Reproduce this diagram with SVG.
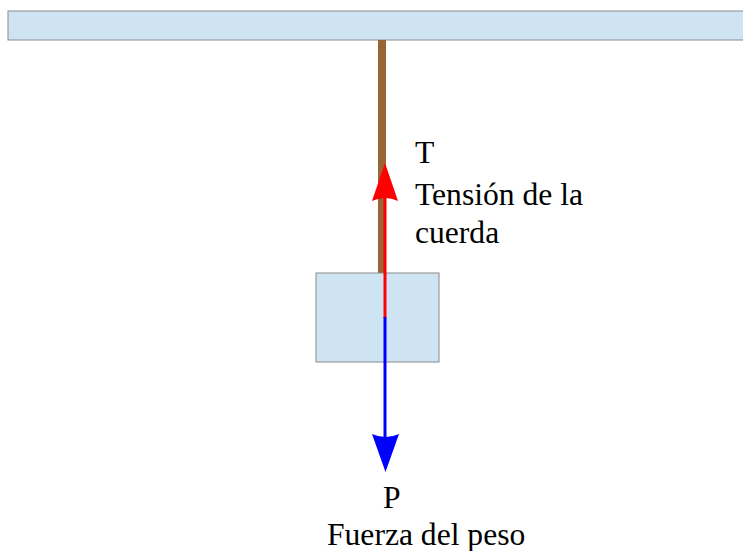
<svg xmlns="http://www.w3.org/2000/svg" width="743" height="551" viewBox="0 0 743 551">
<style>
.box{fill:#cfe4f3;stroke:#8a8a8a;stroke-width:1}
.lbl{font-family:"Liberation Serif","Times New Roman",serif;font-size:31.6px;fill:#000}
</style>
<g id="ceiling"><rect class="box" x="8" y="11" width="740" height="29"/></g>
<g id="rope"><rect x="378" y="40" width="8" height="233" fill="#9a6535"/></g>
<g id="block"><rect class="box" x="316" y="273" width="123" height="89"/></g>
<g id="connectors">
<line x1="385" y1="318" x2="385" y2="195" stroke="#ff0000" stroke-width="3"/>
<path d="M385,163 L398,201 Q385,195 372,201 Z" fill="#ff0000"/>
<line x1="385" y1="317" x2="385" y2="440" stroke="#0000ff" stroke-width="3"/>
<path d="M385.5,472 L399,434 Q385.5,440 372,434 Z" fill="#0000ff"/>
</g>
<g id="labels">
<text class="lbl" x="415" y="163">T</text>
<text class="lbl" x="415" y="205">Tensión de la</text>
<text class="lbl" x="415" y="243">cuerda</text>
<text class="lbl" x="383" y="508">P</text>
<text class="lbl" x="327" y="545">Fuerza del peso</text>
</g>
</svg>
